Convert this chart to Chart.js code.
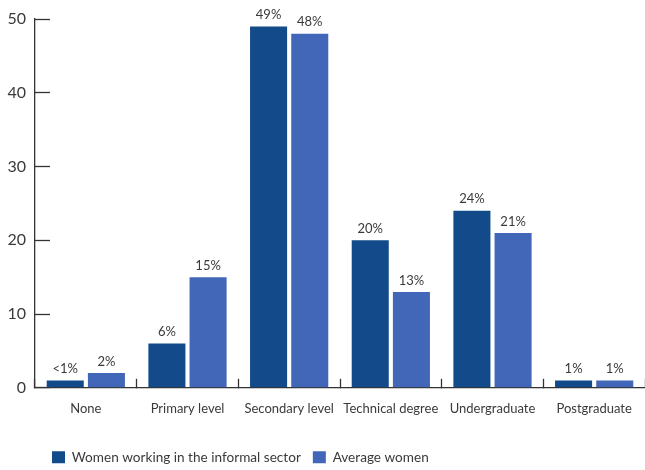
<!DOCTYPE html>
<html>
<head>
<meta charset="utf-8">
<script src="https://cdn.jsdelivr.net/npm/chart.js@4"></script>
<style>
  html, body { margin: 0; padding: 0; background: #fff; }
  #wrap { width: 645px; height: 470px; }
</style>
</head>
<body>
<div id="wrap"><canvas id="eduChart" width="645" height="470"></canvas></div>
<script>
const categories = ['None', 'Primary level', 'Secondary level', 'Technical degree', 'Undergraduate', 'Postgraduate'];
const informalValues = [1, 6, 49, 20, 24, 1];
const averageValues = [2, 15, 48, 13, 21, 1];
const informalLabels = ['<1%', '6%', '49%', '20%', '24%', '1%'];
const averageLabels = ['2%', '15%', '48%', '13%', '21%', '1%'];
const yTicks = [0, 10, 20, 30, 40, 50];

const textColor = '#3a3a3a';
const fontFamily = 'Lato, "Open Sans", sans-serif';

// simple value labels above each bar
const barLabels = {
  id: 'barLabels',
  afterDatasetsDraw(chart) {
    const ctx = chart.ctx;
    const texts = [informalLabels, averageLabels];
    ctx.save();
    ctx.font = '13px ' + fontFamily;
    ctx.fillStyle = textColor;
    ctx.textAlign = 'center';
    ctx.textBaseline = 'bottom';
    chart.data.datasets.forEach(function(ds, i) {
      chart.getDatasetMeta(i).data.forEach(function(bar, j) {
        ctx.fillText(texts[i][j], bar.x, bar.y - 5);
      });
    });
    ctx.restore();
  }
};

// push the legend a bit to the right, it does not sit flush left
const legendShift = {
  id: 'legendShift',
  afterLayout(chart) {
    chart.legend.left += 40;
  }
};

new Chart(document.getElementById('eduChart').getContext('2d'), {
  type: 'bar',
  data: {
    labels: categories,
    datasets: [
      {
        label: 'Women working in the informal sector',
        data: informalValues,
        backgroundColor: '#134b8a',
        categoryPercentage: 0.81,
        barPercentage: 0.9
      },
      {
        label: 'Average women',
        data: averageValues,
        backgroundColor: '#4367b8',
        categoryPercentage: 0.81,
        barPercentage: 0.9
      }
    ]
  },
  options: {
    responsive: false,
    animation: false,
    layout: { padding: { top: 0, right: 0, left: 0, bottom: -4 } },
    scales: {
      x: {
        afterFit: function(axis) {
          axis.paddingLeft = 0;
          axis.paddingRight = 0;
        },
        grid: {
          offset: true,
          drawOnChartArea: false,
          tickLength: -9,
          tickColor: '#333',
          tickWidth: 1.3
        },
        border: { color: '#333', width: 1.3 },
        ticks: {
          color: textColor,
          padding: 22,
          maxRotation: 0,
          autoSkip: false,
          font: { family: fontFamily, size: 13 }
        }
      },
      y: {
        min: 0,
        max: 50,
        afterBuildTicks: function(axis) {
          axis.ticks = yTicks.map(function(v) { return { value: v }; });
        },
        afterFit: function(axis) {
          axis.width = 35;
          axis.paddingTop = 19;
          axis.paddingBottom = 10;
        },
        grid: {
          drawOnChartArea: false,
          tickLength: -15,
          tickColor: '#333',
          tickWidth: 1.3
        },
        border: { color: '#333', width: 1.3 },
        ticks: {
          color: textColor,
          padding: 24,
          font: { family: fontFamily, size: 16 }
        }
      }
    },
    plugins: {
      legend: {
        position: 'bottom',
        align: 'start',
        labels: {
          color: textColor,
          boxWidth: 13,
          boxHeight: 12,
          padding: 12,
          font: { family: fontFamily, size: 13.6 }
        }
      },
      tooltip: { enabled: false }
    }
  },
  plugins: [barLabels, legendShift]
});
</script>
</body>
</html>
